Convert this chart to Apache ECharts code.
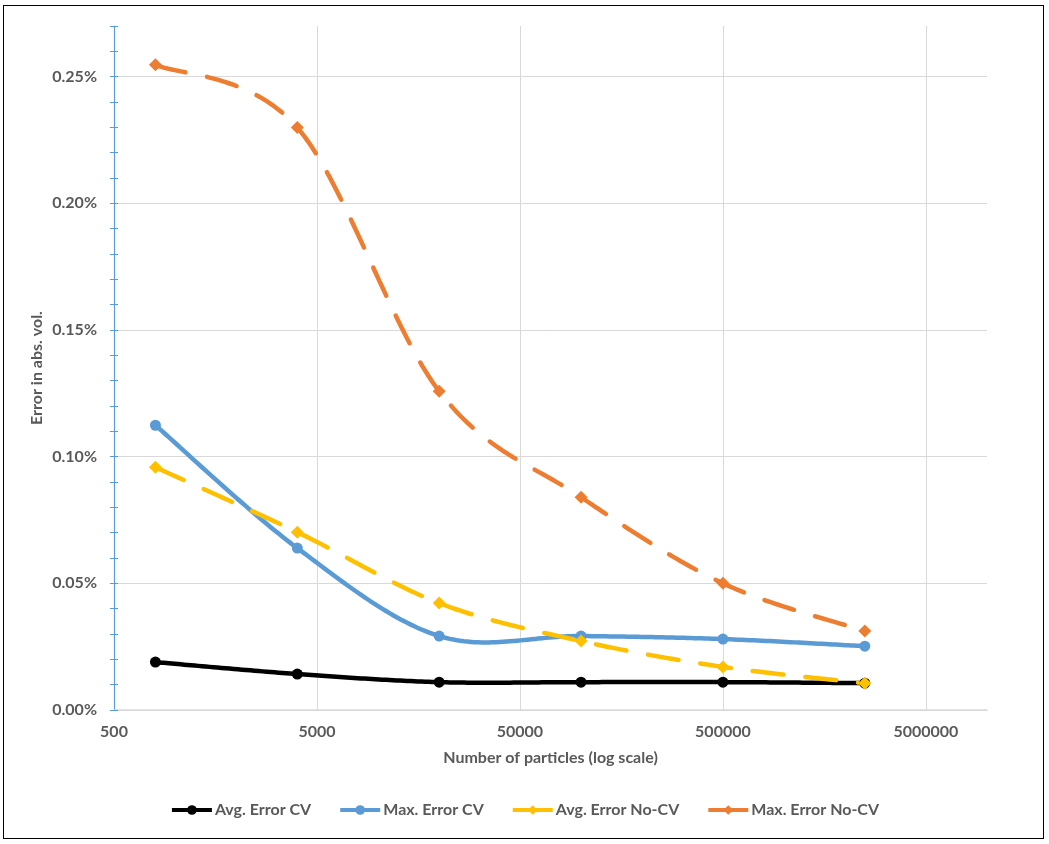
<!DOCTYPE html>
<html><head><meta charset="utf-8">
<script src="https://cdn.jsdelivr.net/npm/echarts@6/dist/echarts.min.js"></script>
<style>
html,body{margin:0;padding:0;background:#fff;}
#frame{position:absolute;left:3px;top:5px;width:1039px;height:832px;border:1px solid #000;}
#chart{position:absolute;left:0;top:0;width:1049px;height:844px;}
</style></head><body>
<div id="frame"></div>
<div id="chart"></div>
<script>
const particles = [800, 4000, 20000, 100000, 500000, 2500000];
const avgErrorCV = [0.0189, 0.0142, 0.0110, 0.0110, 0.0110, 0.0106];
const maxErrorCV = [0.1124, 0.0639, 0.0292, 0.0292, 0.0280, 0.0252];
const avgErrorNoCV = [0.0958, 0.0702, 0.0422, 0.0272, 0.0170, 0.0106];
const maxErrorNoCV = [0.2547, 0.2299, 0.1258, 0.0840, 0.0500, 0.0312];
const seriesNames = ['Avg. Error CV', 'Max. Error CV', 'Avg. Error No-CV', 'Max. Error No-CV'];
const xTicks = [500, 5000, 50000, 500000, 5000000];
const yTicks = [0, 0.05, 0.10, 0.15, 0.20, 0.25];

const font = {fontFamily: 'Lato', fontWeight: 'bold', fontSize: 16, color: '#595959'};
const pairs = arr => particles.map((p, i) => [p, arr[i]]);

// markers (line itself drawn by the smooth curve series below)
function markerSeries(name, data, color, symbol, size) {
  return {
    name, type: 'line', data: pairs(data),
    symbol, symbolSize: size,
    itemStyle: {color},
    lineStyle: {color, width: 4.5, opacity: 0},
    z: 6
  };
}

// Excel-like (Catmull-Rom) smoothed line, computed in pixel space from api.coord
function curveSeries(name, data, color, dashed) {
  const pts = pairs(data);
  return {
    name: name + ' (curve)', type: 'custom', data: pts, z: 4, silent: true,
    encode: {x: 0, y: 1},
    renderItem(params, api) {
      if (params.dataIndex !== 0) return null;
      const P = pts.map(p => api.coord(p));
      const out = [P[0].slice()];
      const n = P.length;
      for (let i = 0; i < n - 1; i++) {
        const p0 = P[Math.max(i - 1, 0)], p1 = P[i], p2 = P[i + 1], p3 = P[Math.min(i + 2, n - 1)];
        const c1 = [p1[0] + (p2[0] - p0[0]) / 6, p1[1] + (p2[1] - p0[1]) / 6];
        const c2 = [p2[0] - (p3[0] - p1[0]) / 6, p2[1] - (p3[1] - p1[1]) / 6];
        const steps = 40;
        for (let s = 1; s <= steps; s++) {
          const t = s / steps, u = 1 - t;
          const a = u * u * u, b = 3 * u * u * t, c = 3 * u * t * t, d = t * t * t;
          out.push([a * p1[0] + b * c1[0] + c * c2[0] + d * p2[0],
                    a * p1[1] + b * c1[1] + c * c2[1] + d * p2[1]]);
        }
      }
      return {
        type: 'polyline', shape: {points: out},
        style: {fill: null, stroke: color, lineWidth: 4.5,
                lineDash: dashed ? [31, 22] : null, lineCap: 'round', lineJoin: 'round'}
      };
    }
  };
}

const chart = echarts.init(document.getElementById('chart'), null, {renderer: 'canvas'});
chart.setOption({
  animation: false,
  backgroundColor: 'transparent',
  grid: {left: 114, right: 62, top: 26, bottom: 134, containLabel: false},
  legend: {
    bottom: 21, left: 'center', itemWidth: 40, itemHeight: 12, itemGap: 27,
    data: seriesNames,
    textStyle: Object.assign({}, font, {padding: [0, 0, 0, -2]}),
    lineStyle: {type: 'solid', width: 4, opacity: 1}
  },
  xAxis: {
    type: 'log', logBase: 10, min: 500, max: 10000000,
    name: 'Number of particles (log scale)', nameLocation: 'middle', nameGap: 40,
    nameTextStyle: font,
    axisLine: {show: true, lineStyle: {color: '#d9d9d9', width: 1.5}},
    axisTick: {show: false, customValues: xTicks},
    axisLabel: Object.assign({}, font, {customValues: xTicks, margin: 14, formatter: v => String(Math.round(v))}),
    splitLine: {show: true, lineStyle: {color: '#d9d9d9', width: 1}},
    minorSplitLine: {show: false}
  },
  yAxis: [
    {
      type: 'value', min: 0, max: 0.27, interval: 0.05,
      name: 'Error in abs. vol.', nameLocation: 'middle', nameGap: 69, nameRotate: 90,
      nameMoveOverlap: false,
      nameTextStyle: font,
      axisLine: {show: false},
      axisTick: {show: false, customValues: yTicks},
      axisLabel: Object.assign({}, font, {customValues: yTicks, margin: 17, formatter: v => v.toFixed(2) + '%'}),
      splitLine: {show: true, lineStyle: {color: '#d9d9d9', width: 1}}
    },
    {
      type: 'value', min: 0, max: 0.27, interval: 0.01, position: 'left',
      axisLine: {show: true, lineStyle: {color: '#5b9bd5', width: 1.2}},
      axisTick: {show: true, inside: false, length: 4, lineStyle: {color: '#5b9bd5'}},
      axisLabel: {show: false}, splitLine: {show: false}
    },
    {
      type: 'value', min: 0, max: 0.27, interval: 0.01, position: 'left',
      axisLine: {show: false},
      axisTick: {show: true, inside: true, length: 4, lineStyle: {color: '#5b9bd5'}},
      axisLabel: {show: false}, splitLine: {show: false}
    }
  ],
  series: [
    curveSeries(seriesNames[0], avgErrorCV, '#000000', false),
    curveSeries(seriesNames[1], maxErrorCV, '#5b9bd5', false),
    curveSeries(seriesNames[2], avgErrorNoCV, '#ffc000', true),
    curveSeries(seriesNames[3], maxErrorNoCV, '#ed7d31', true),
    markerSeries(seriesNames[0], avgErrorCV, '#000000', 'circle', 11),
    markerSeries(seriesNames[1], maxErrorCV, '#5b9bd5', 'circle', 11),
    markerSeries(seriesNames[2], avgErrorNoCV, '#ffc000', 'diamond', 13),
    markerSeries(seriesNames[3], maxErrorNoCV, '#ed7d31', 'diamond', 13)
  ]
});
</script>
</body></html>
